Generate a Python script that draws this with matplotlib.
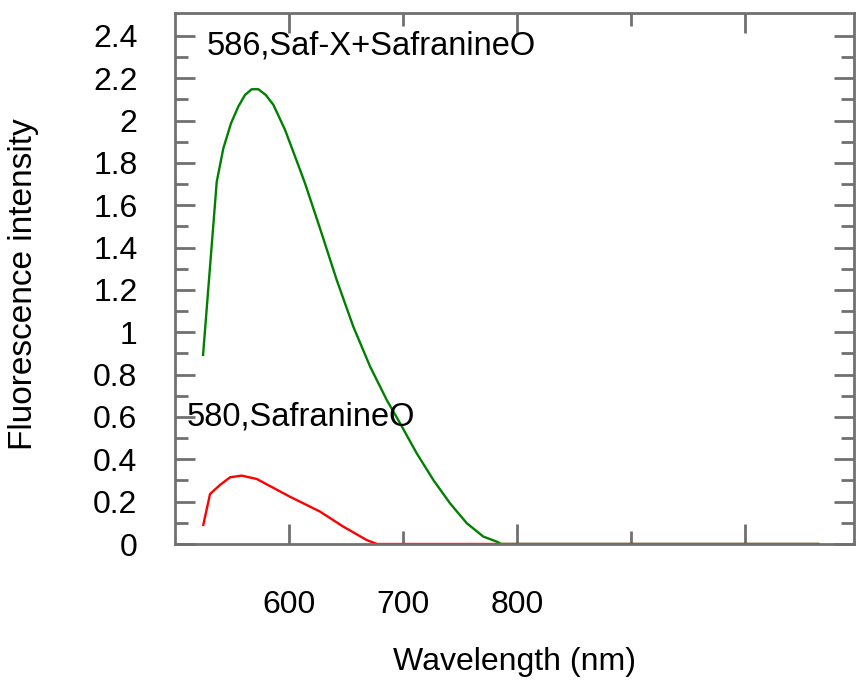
import numpy as np
import matplotlib
matplotlib.use("Agg")
import matplotlib.pyplot as plt

# spectra (wavelength nm, intensity)
safx_wl = [524.6, 536.6, 542.4, 549.1, 555.5, 561.4, 567.3, 573.1, 579.6,
           586.3, 596.5, 605.3, 614.0, 627.2, 641.8, 656.4, 671.1, 685.7,
           697.4, 712.0, 726.6, 741.2, 755.9, 770.4, 782.2, 786.0, 1064.0]
safx_int = [0.893, 1.711, 1.869, 1.987, 2.066, 2.121, 2.148, 2.148, 2.121,
            2.074, 1.956, 1.830, 1.704, 1.490, 1.247, 1.026, 0.838, 0.680,
            0.570, 0.428, 0.302, 0.192, 0.098, 0.035, 0.011, 0.0, 0.0]

saf_wl = [524.8, 530.7, 539.5, 548.2, 558.5, 571.7, 600.9, 609.6, 627.2,
          647.6, 668.0, 677.0, 1064.0]
saf_int = [0.090, 0.236, 0.279, 0.315, 0.323, 0.307, 0.223, 0.200, 0.153,
           0.082, 0.019, 0.0, 0.0]

labels = ["586,Saf-X+SafranineO", "580,SafranineO"]
x_major = [600, 800, 1000]
x_major_labels = ["600", "800", ""]
x_minor = [700, 900]
x_minor_labels = ["700", ""]
y_major = np.arange(0, 2.41, 0.2)
y_minor = np.arange(0.1, 2.5, 0.2)


def main():
    plt.rcParams['font.family'] = ['Liberation Sans', 'DejaVu Sans']
    fig = plt.figure(figsize=(8.57, 6.81), dpi=100)
    ax = fig.add_axes([175 / 857, 1 - 544 / 681, 678.5 / 857, 531 / 681])

    ax.plot(saf_wl, saf_int, color="#ff0000", lw=1.7)
    ax.plot(safx_wl, safx_int, color="#008000", lw=1.7)

    ax.text(528, 2.31, labels[0], fontsize=23.5, va="baseline")
    ax.text(510.5, 0.562, labels[1], fontsize=23.5, va="baseline")

    ax.set_xlim(500, 1095)
    ax.set_ylim(0, 2.508)

    ax.set_xticks(x_major, labels=x_major_labels)
    ax.set_xticks(x_minor, labels=x_minor_labels, minor=True)
    ax.set_yticks(y_major, labels=["0" if v == 0 else ("%g" % round(v, 1))
                                   for v in y_major])
    ax.set_yticks(y_minor, minor=True)

    grey = "#707070"
    for s in ax.spines.values():
        s.set_color(grey)
        s.set_linewidth(2)
    ax.tick_params(which="both", direction="in", color=grey, width=2,
                   top=True, right=True, labelsize=23)
    ax.tick_params(which="major", length=14.5)
    ax.tick_params(which="minor", length=9.5)
    ax.tick_params(axis="x", which="both", pad=33)
    ax.tick_params(axis="y", which="both", pad=27)

    ax.set_xlabel("Wavelength (nm)", fontsize=23)
    ax.set_ylabel("Fluorescence intensity", fontsize=24)
    ax.xaxis.set_label_coords(0.5, -0.194)
    ax.yaxis.set_label_coords(-0.2, 0.49)

    fig.savefig("out.png", dpi=100)


if __name__ == '__main__':
    main()
